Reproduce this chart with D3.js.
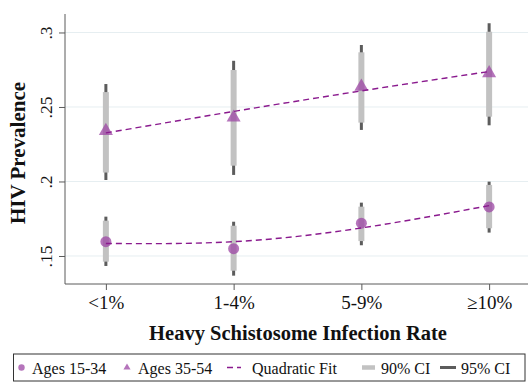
<!DOCTYPE html>
<html>
<head>
<meta charset="utf-8">
<script src="https://cdn.jsdelivr.net/npm/d3@7"></script>
<style>
  body { margin: 0; background: #fff; }
  svg text { font-family: "Liberation Serif", "Times New Roman", serif; fill: #111; }
</style>
</head>
<body>
<svg id="chart" width="528" height="383"></svg>
<script>
// categories on the x axis
const categories = ["<1%", "1-4%", "5-9%", "≥10%"];

// Ages 15-34
const prev15 = [0.1596, 0.1549, 0.1720, 0.1829];
const ci90lo15 = [0.1462, 0.1401, 0.1600, 0.1686];
const ci90hi15 = [0.1737, 0.1703, 0.1831, 0.1977];
const ci95lo15 = [0.1433, 0.1368, 0.1572, 0.1657];
const ci95hi15 = [0.1764, 0.1730, 0.1858, 0.1999];
const fit15 = [0.1584, 0.1596, 0.1688, 0.1838];

// Ages 35-54
const prev35 = [0.2346, 0.2436, 0.2643, 0.2734];
const ci90lo35 = [0.2060, 0.2106, 0.2395, 0.2435];
const ci90hi35 = [0.2600, 0.2748, 0.2867, 0.3005];
const ci95lo35 = [0.2010, 0.2044, 0.2346, 0.2377];
const ci95hi35 = [0.2654, 0.2810, 0.2916, 0.3062];
const fit35 = [0.2326, 0.2470, 0.2608, 0.2738];

// y tick values and labels
const yTicks = [0.15, 0.2, 0.25, 0.3];
const yTickLabels = [".15", ".2", ".25", ".3"];

const legendLabels = ["Ages 15-34", "Ages 35-54", "Quadratic Fit", "90% CI", "95% CI"];

const purple = "#9c46a4";
const fitColor = "#8a1a8e";

const svg = d3.select("#chart");

// scales (category index 1..4 on a linear scale, like the original)
const x = d3.scaleLinear().domain([0.68, 4.32]).range([65, 530]);
const y = d3.scaleLinear().domain([0.1312, 0.3124]).range([284, 14]);

// gridlines
svg.append("g")
    .selectAll("line")
    .data(yTicks)
  .enter().append("line")
    .attr("x1", 65).attr("x2", 528)
    .attr("y1", d => y(d)).attr("y2", d => y(d))
    .style("stroke", "#e6eef1")
    .style("stroke-width", 1);

// y axis
const yAxis = svg.append("g")
    .attr("transform", "translate(65,0)")
    .call(d3.axisLeft(y).tickValues(yTicks).tickSize(6)
      .tickFormat((d, i) => yTickLabels[i]));
yAxis.select(".domain").attr("d", `M0,${y.range()[1]}V${y.range()[0]}`);
yAxis.selectAll("path, line").style("stroke", "#5a5a5a");
yAxis.selectAll(".tick text")
    .attr("x", null).attr("dy", null)
    .attr("transform", "translate(-13,0) rotate(-90)")
    .attr("text-anchor", "middle")
    .style("font-size", "17.5px")
    .style("font-family", "Liberation Serif")
    .style("fill", "#111");

// x axis
const xAxis = svg.append("g")
    .attr("transform", "translate(0,284)")
    .call(d3.axisBottom(x).tickValues([1, 2, 3, 4]).tickSize(6)
      .tickFormat((d, i) => categories[i]));
xAxis.select(".domain").attr("d", "M65,0H528");
xAxis.selectAll("path, line").style("stroke", "#5a5a5a");
xAxis.selectAll(".tick text")
    .attr("y", 25).attr("dy", null)
    .style("font-size", "19px")
    .style("font-family", "Liberation Serif")
    .style("fill", "#111");

// axis titles
svg.append("text")
    .attr("transform", "translate(25,153) rotate(-90)")
    .attr("text-anchor", "middle")
    .style("font-size", "21px")
    .style("font-weight", "bold")
    .text("HIV Prevalence");

svg.append("text")
    .attr("x", 298).attr("y", 340)
    .attr("text-anchor", "middle")
    .style("font-size", "20.5px")
    .style("font-weight", "bold")
    .text("Heavy Schistosome Infection Rate");

const idx = [0, 1, 2, 3];

// confidence intervals: 95% (dark) behind, 90% (light) on top
function drawCI(lo, hi, color, w) {
  svg.append("g")
      .selectAll("line")
      .data(idx)
    .enter().append("line")
      .attr("x1", i => x(i + 1)).attr("x2", i => x(i + 1))
      .attr("y1", i => y(lo[i])).attr("y2", i => y(hi[i]))
      .style("stroke", color)
      .style("stroke-width", w);
}
drawCI(ci95lo35, ci95hi35, "#5c5c5c", 3);
drawCI(ci95lo15, ci95hi15, "#5c5c5c", 3);
drawCI(ci90lo35, ci90hi35, "#c2c2c2", 6);
drawCI(ci90lo15, ci90hi15, "#c2c2c2", 6);

// markers
svg.append("g")
    .selectAll("circle")
    .data(idx)
  .enter().append("circle")
    .attr("cx", i => x(i + 1))
    .attr("cy", i => y(prev15[i]))
    .attr("r", 5.5)
    .style("fill", purple)
    .style("fill-opacity", 0.75);

const tri = d3.symbol().type(d3.symbolTriangle).size(85);
svg.append("g")
    .selectAll("path")
    .data(idx)
  .enter().append("path")
    .attr("d", tri)
    .attr("transform", i => `translate(${x(i + 1)},${y(prev35[i]) + 1})`)
    .style("fill", purple)
    .style("fill-opacity", 0.75);

// quadratic fit lines
const fitLine = d3.line()
    .x((d, i) => x(i + 1))
    .y(d => y(d))
    .curve(d3.curveNatural);

[fit15, fit35].forEach(f => {
  svg.append("path")
      .attr("d", fitLine(f))
      .style("fill", "none")
      .style("stroke", fitColor)
      .style("stroke-width", 1.4)
      .style("stroke-dasharray", "6,4");
});

// legend
const lg = svg.append("g");
lg.append("rect")
    .attr("x", 13.5).attr("y", 354)
    .attr("width", 511.5).attr("height", 27)
    .style("fill", "#fff")
    .style("stroke", "#333")
    .style("stroke-width", 1);

const ly = 367.5;
const textX = [32, 138, 252, 381, 461];
lg.append("circle").attr("cx", 21.5).attr("cy", ly).attr("r", 3.2)
    .style("fill", purple).style("fill-opacity", 0.75);
lg.append("path").attr("d", d3.symbol().type(d3.symbolTriangle).size(22))
    .attr("transform", `translate(127,${ly})`)
    .style("fill", purple).style("fill-opacity", 0.75);
lg.append("line").attr("x1", 227).attr("x2", 241).attr("y1", ly).attr("y2", ly)
    .style("stroke", fitColor).style("stroke-width", 1.4).style("stroke-dasharray", "6,4");
lg.append("line").attr("x1", 362).attr("x2", 375).attr("y1", ly).attr("y2", ly)
    .style("stroke", "#c2c2c2").style("stroke-width", 4.5);
lg.append("line").attr("x1", 440).attr("x2", 456).attr("y1", ly).attr("y2", ly)
    .style("stroke", "#5c5c5c").style("stroke-width", 3);

lg.selectAll("text.lbl")
    .data(legendLabels)
  .enter().append("text")
    .attr("class", "lbl")
    .attr("x", (d, i) => textX[i])
    .attr("y", 373.5)
    .style("font-size", "16px")
    .text(d => d);
</script>
</body>
</html>
